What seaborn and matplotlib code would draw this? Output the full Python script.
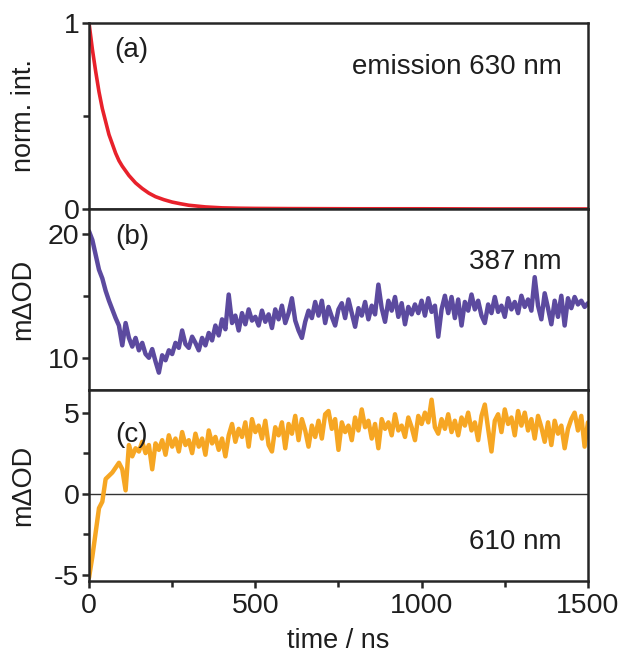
import numpy as np
import pandas as pd
import matplotlib
matplotlib.use("Agg")
import matplotlib.pyplot as plt
import seaborn as sns
from matplotlib.ticker import MultipleLocator

# ---------------- data ----------------
t_emission = [0, 10, 20, 30, 40, 50, 60, 70, 80, 90, 100, 120, 140, 160, 180,
              200, 225, 250, 275, 300, 350, 400, 450, 500, 600, 800, 1000, 1200, 1500]
emission_630 = [1.0, 0.86, 0.74, 0.63, 0.54, 0.47, 0.40, 0.35, 0.30, 0.26, 0.23,
                0.18, 0.14, 0.11, 0.085, 0.066, 0.05, 0.037, 0.028, 0.02, 0.011,
                0.006, 0.004, 0.003, 0.002, 0.001, 0.001, 0.0, 0.0]

t_step = 10  # ns between read points of the transient-absorption traces
od_387 = [
    20.2, 19.5, 18.3, 17.1, 16.4, 15.4, 14.6, 13.9, 13.2, 12.6,
    11.0, 12.8, 11.6, 10.9, 11.6, 10.6, 11.2, 10.3, 10.0, 10.7,
    9.7, 8.8, 10.2, 9.8, 10.6, 10.3, 11.2, 10.8, 12.2, 11.1,
    10.8, 11.7, 11.2, 10.6, 11.6, 11.0, 12.0, 11.4, 12.6, 11.8,
    13.1, 12.3, 15.1, 12.8, 13.4, 12.2, 13.6, 12.7, 13.9, 13.0,
    13.3, 12.6, 13.8, 12.9, 13.5, 12.4, 13.9, 13.1, 14.2, 12.8,
    13.6, 14.8, 13.0, 12.2, 11.6, 12.9, 13.8, 13.2, 14.5, 13.4,
    14.6, 12.8, 14.1, 13.3, 12.6, 13.9, 14.4, 13.2, 14.7, 13.6,
    12.5, 14.0, 13.4, 14.5, 13.1, 14.2, 13.5, 15.9, 14.0, 12.9,
    14.6, 13.8, 14.9, 13.3, 14.4, 12.7, 14.1, 13.5, 14.3, 13.6,
    14.6, 13.4, 14.8, 13.7, 14.2, 11.7, 13.9, 15.0, 13.6, 14.9,
    13.2, 14.7, 12.6, 14.5, 13.8, 15.1, 13.9, 14.6, 13.4, 12.8,
    14.3, 13.6, 14.9, 13.7, 14.2, 13.3, 14.8, 13.9, 14.5, 13.6,
    15.0, 14.1, 14.7, 13.8, 16.5, 14.2, 13.1, 15.2, 14.0, 12.7,
    14.6, 13.3, 15.0, 12.6, 14.8, 14.0, 14.9, 14.3, 14.6, 14.1,
    14.4,
]
od_610 = [
    -5.2, -3.9, -2.4, -0.9, -0.5, 0.9, 1.1, 1.3, 1.6, 1.9,
    1.5, 0.2, 3.0, 2.3, 2.8, 2.6, 3.2, 2.5, 3.0, 1.5,
    3.1, 2.7, 3.3, 2.4, 3.6, 2.9, 3.4, 2.6, 3.8, 3.0,
    3.3, 2.5, 3.7, 2.9, 3.4, 2.4, 3.9, 3.1, 3.5, 2.7,
    3.4, 2.3, 3.6, 4.3, 3.2, 4.0, 3.5, 4.4, 2.9, 4.6,
    3.8, 4.2, 3.4, 4.5, 3.0, 2.6, 4.1, 3.6, 4.4, 2.8,
    4.3, 3.7, 4.8, 3.3, 4.6, 3.9, 2.9, 4.2, 3.5, 4.5,
    3.4, 4.9, 5.1, 4.0, 4.6, 2.7, 4.4, 3.8, 4.2, 3.3,
    4.7, 3.9, 5.2, 4.1, 4.5, 3.4, 4.3, 2.8, 4.6, 4.0,
    4.4, 3.6, 4.9, 3.9, 4.2, 3.5, 4.7, 4.1, 3.3, 4.8,
    4.3, 5.0, 4.4, 5.8, 4.1, 3.7, 4.6, 4.0, 4.9, 3.8,
    4.5, 3.6, 4.7, 4.2, 5.0, 3.9, 4.4, 3.3, 4.8, 5.5,
    4.0, 2.6, 4.5, 4.9, 3.8, 5.2, 4.3, 4.7, 3.6, 5.1,
    4.2, 5.0, 3.9, 4.6, 3.4, 4.8, 4.1, 3.2, 4.4, 3.0,
    4.5, 3.7, 4.2, 2.8, 4.0, 4.6, 5.0, 3.9, 4.8, 2.9,
    4.4,
]

x_ticks = [0, 500, 1000, 1500]
panel_labels = ["(a)", "(b)", "(c)"]
panel_notes = ["emission 630 nm", "387 nm", "610 nm"]
y_labels = ["norm. int.", "m\u0394OD", "m\u0394OD"]

df_a = pd.DataFrame({"t": t_emission, "v": emission_630})
df_b = pd.DataFrame({"t": np.arange(len(od_387)) * t_step, "v": od_387})
df_c = pd.DataFrame({"t": np.arange(len(od_610)) * t_step, "v": od_610})

# ---------------- style ----------------
sns.set_style("ticks")
plt.rcParams["font.family"] = ["Liberation Sans", "DejaVu Sans"]
plt.rcParams["axes.unicode_minus"] = False
plt.rcParams["axes.linewidth"] = 1.8
for k in ["xtick.major.width", "ytick.major.width", "xtick.minor.width", "ytick.minor.width"]:
    plt.rcParams[k] = 1.8
plt.rcParams["xtick.major.size"] = 5
plt.rcParams["ytick.major.size"] = 5
plt.rcParams["xtick.minor.size"] = 4
plt.rcParams["ytick.minor.size"] = 4
plt.rcParams["xtick.direction"] = "out"
plt.rcParams["ytick.direction"] = "out"
TXT = "#1e1e1e"
plt.rcParams["text.color"] = TXT
plt.rcParams["xtick.labelcolor"] = TXT
plt.rcParams["ytick.labelcolor"] = TXT
plt.rcParams["axes.labelcolor"] = TXT

FS_TICK = 20.5
FS_LABEL = 19.5
FS_NOTE = 20

fig = plt.figure(figsize=(6.19, 6.59), dpi=100)
left, width = 0.1438, 0.806
ax_a = fig.add_axes([left, 0.6829, width, 0.2822])
ax_b = fig.add_axes([left, 0.4082, width, 0.2747])
ax_c = fig.add_axes([left, 0.1184, width, 0.2898])
axes = [ax_a, ax_b, ax_c]

sns.lineplot(data=df_a, x="t", y="v", ax=ax_a, color="#E8212B", linewidth=2.6)
sns.lineplot(data=df_b, x="t", y="v", ax=ax_b, color="#5C4A9F", linewidth=3.2)
ax_c.axhline(0, color="#333333", linewidth=1.0, zorder=1)
sns.lineplot(data=df_c, x="t", y="v", ax=ax_c, color="#F6A623", linewidth=3.2)

ax_a.set_ylim(0, 1.0)
ax_a.yaxis.set_major_locator(MultipleLocator(1))
ax_a.yaxis.set_minor_locator(MultipleLocator(0.5))
ax_b.set_ylim(7.4, 22.0)
ax_b.yaxis.set_major_locator(MultipleLocator(10))
ax_b.yaxis.set_minor_locator(MultipleLocator(5))
ax_c.set_ylim(-5.4, 6.4)
ax_c.yaxis.set_major_locator(MultipleLocator(5))
ax_c.yaxis.set_minor_locator(MultipleLocator(2.5))

for i, ax in enumerate(axes):
    ax.set_xlim(0, 1500)
    ax.set_xticks(x_ticks)
    ax.xaxis.set_minor_locator(MultipleLocator(250))
    for s in ax.spines.values():
        s.set_visible(True)
        s.set_linewidth(1.8)
    ax.set_ylabel(y_labels[i], fontsize=FS_LABEL)
    ax.yaxis.set_label_coords(-0.105, 0.5)
    ax.tick_params(axis="y", labelsize=FS_TICK, pad=2)
    ax.tick_params(axis="x", labelsize=FS_TICK, pad=4)
    if i < 2:
        ax.set_xlabel("")
        ax.tick_params(axis="x", which="both", bottom=False, labelbottom=False)
    else:
        ax.set_xlabel("time / ns", fontsize=FS_LABEL, labelpad=6)

ax_a.text(0.05, 0.855, panel_labels[0], transform=ax_a.transAxes, ha="left", va="center", fontsize=FS_NOTE)
ax_a.text(0.948, 0.763, panel_notes[0], transform=ax_a.transAxes, ha="right", va="center", fontsize=FS_NOTE)
ax_b.text(0.052, 0.845, panel_labels[1], transform=ax_b.transAxes, ha="left", va="center", fontsize=FS_NOTE)
ax_b.text(0.948, 0.707, panel_notes[1], transform=ax_b.transAxes, ha="right", va="center", fontsize=FS_NOTE)
ax_c.text(0.052, 0.764, panel_labels[2], transform=ax_c.transAxes, ha="left", va="center", fontsize=FS_NOTE)
ax_c.text(0.948, 0.204, panel_notes[2], transform=ax_c.transAxes, ha="right", va="center", fontsize=FS_NOTE)

fig.savefig("out.png", dpi=100)
